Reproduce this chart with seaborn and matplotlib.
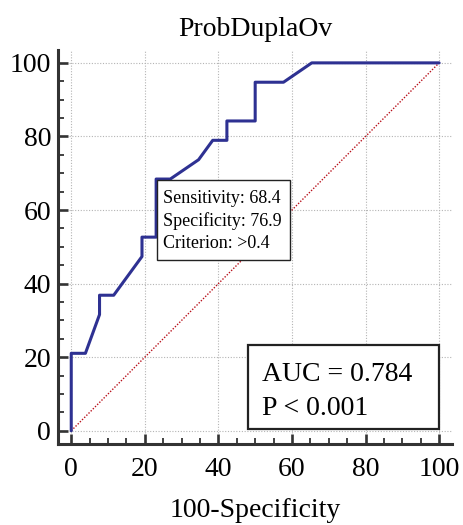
import matplotlib
matplotlib.use("Agg")
import matplotlib.pyplot as plt
import seaborn as sns
import pandas as pd
from matplotlib.patches import Rectangle
from matplotlib.ticker import MultipleLocator

# ROC curve data (100-Specificity, Sensitivity)
fpr = [0, 0, 3.85, 7.69, 7.69, 11.54, 19.23, 19.23, 23.08, 23.08, 26.92, 34.62,
       38.46, 42.31, 42.31, 50.0, 50.0, 57.69, 65.38, 100]
tpr = [0, 21.05, 21.05, 31.58, 36.84, 36.84, 47.37, 52.63, 52.63, 68.42, 68.42,
       73.68, 78.95, 78.95, 84.21, 84.21, 94.74, 94.74, 100, 100]
ref_x = [0, 100]
ref_y = [0, 100]
ticks = [0, 20, 40, 60, 80, 100]
title = "ProbDuplaOv"
xlabel = "100-Specificity"
crit_lines = ["Sensitivity: 68.4", "Specificity: 76.9", "Criterion: >0.4"]
auc_lines = ["AUC = 0.784", "P < 0.001"]

sns.set_style("white")
plt.rcParams["font.family"] = ["Liberation Serif", "DejaVu Serif"]
plt.rcParams["text.color"] = "black"
plt.rcParams["axes.labelcolor"] = "black"
plt.rcParams["xtick.color"] = "black"
plt.rcParams["ytick.color"] = "black"

df = pd.DataFrame({"x": fpr, "y": tpr})
dref = pd.DataFrame({"x": ref_x, "y": ref_y})

fig = plt.figure(figsize=(4.64, 5.25), dpi=100)
ax = fig.add_axes([58 / 464, 1 - 444 / 525, (452 - 58) / 464, (444 - 50) / 525])

ax.grid(True, which="major", color="#b4b4b4", linestyle=(0, (1, 1.5)), linewidth=0.8)
ax.set_axisbelow(True)

sns.lineplot(data=dref, x="x", y="y", ax=ax, color="#b8101a", linestyle=(0, (1, 1.2)),
             linewidth=1.0, sort=False, estimator=None)
sns.lineplot(data=df, x="x", y="y", ax=ax, color="#2e3192", linewidth=2.2,
             sort=False, estimator=None)

ax.set_xlim(-3.6, 103.5)
ax.set_ylim(-3.6, 103.5)
ax.set_xticks(ticks)
ax.set_yticks(ticks)
ax.xaxis.set_minor_locator(MultipleLocator(5))
ax.yaxis.set_minor_locator(MultipleLocator(5))

for s in ["top", "right"]:
    ax.spines[s].set_visible(False)
for s in ["left", "bottom"]:
    ax.spines[s].set_linewidth(2.2)
    ax.spines[s].set_color("#333333")

ax.tick_params(which="both", bottom=True, left=True, top=False, right=False)
ax.tick_params(which="major", direction="in", length=7.5, width=1.9, color="#333333",
               labelcolor="black", labelsize=20, pad=5)
ax.tick_params(which="minor", direction="in", length=4, width=1.3, color="#333333")
ax.tick_params(axis="x", which="major", pad=9)

ax.set_xlabel(xlabel, fontsize=20, labelpad=12, color="black")
ax.set_ylabel("")
ax.set_title(title, fontsize=20, pad=10, color="black")

# Criterion box
ax.add_patch(Rectangle((23.3, 46.3), 36.2, 21.9, facecolor="white", edgecolor="#222222",
                       linewidth=1.0, zorder=5))
for txt, yy in zip(crit_lines, [61.9, 55.7, 49.7]):
    ax.text(24.9, yy, txt, fontsize=13, va="baseline", ha="left", zorder=6, color="black")

# AUC box
ax.add_patch(Rectangle((48.1, 0.5), 51.8, 22.7, facecolor="white", edgecolor="#222222",
                       linewidth=1.6, zorder=5))
for txt, yy in zip(auc_lines, [13.4, 4.3]):
    ax.text(51.9, yy, txt, fontsize=20, va="baseline", ha="left", zorder=6, color="black")

fig.savefig("out.png", dpi=100)
